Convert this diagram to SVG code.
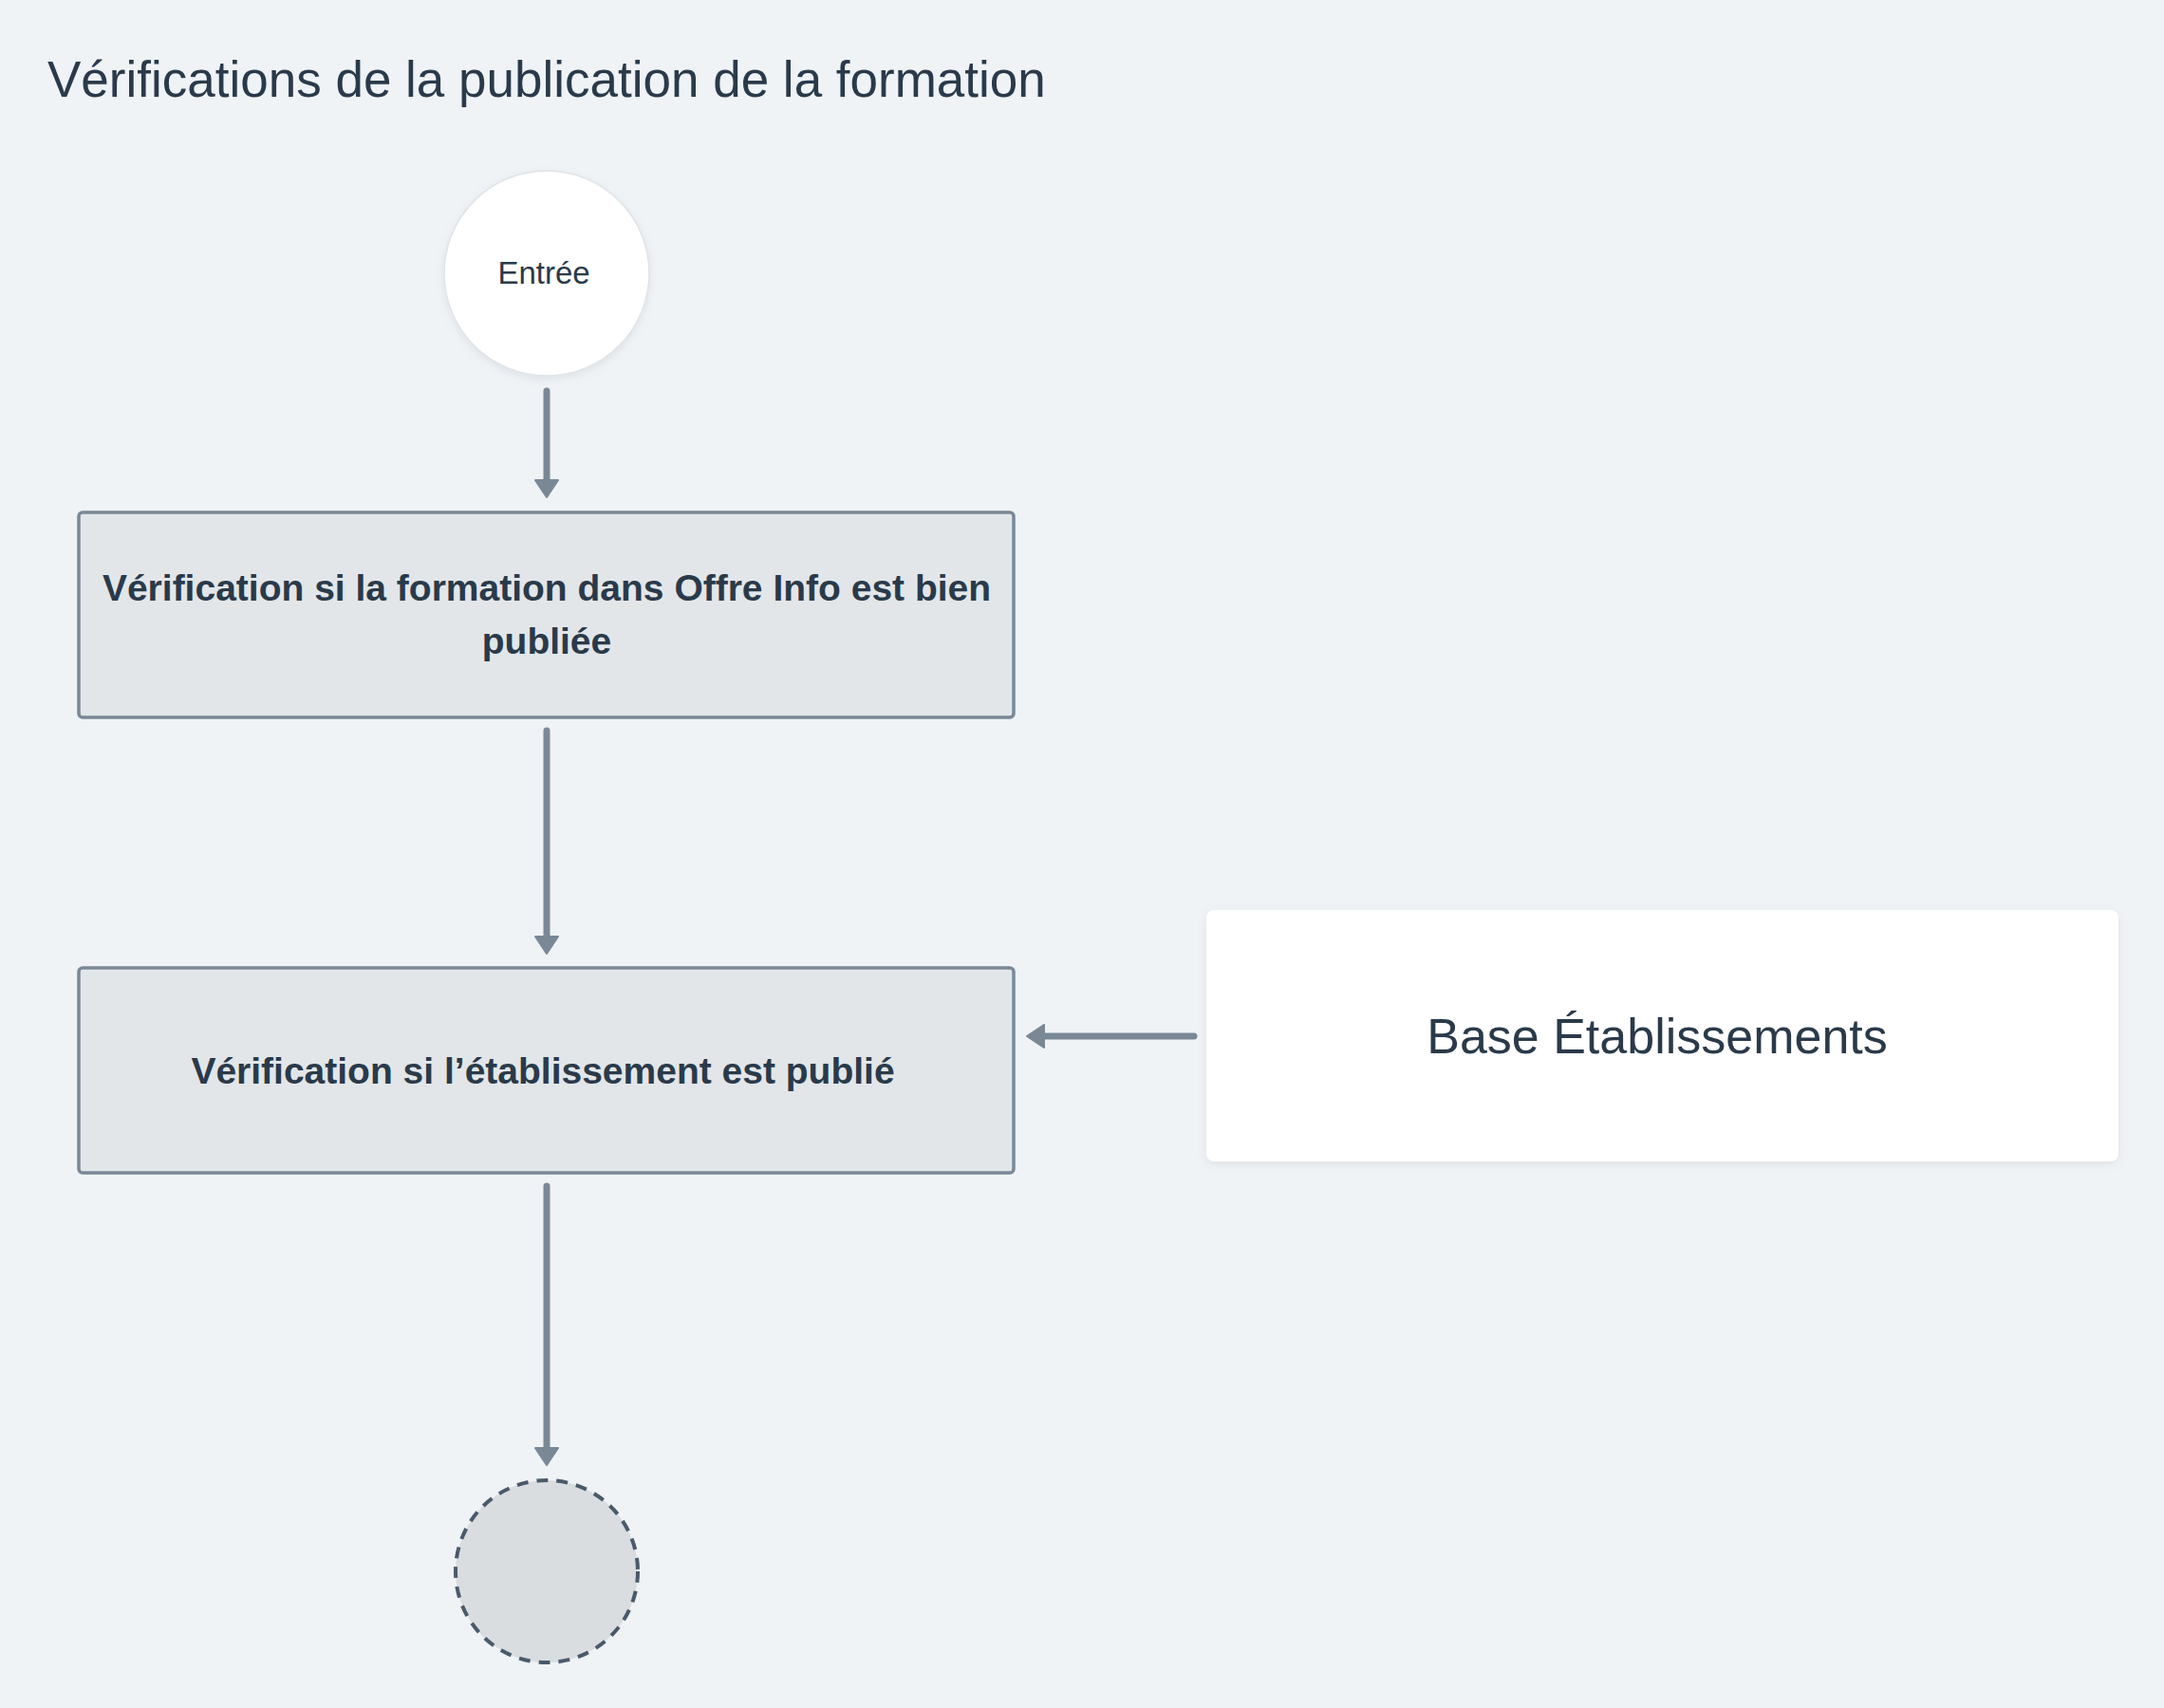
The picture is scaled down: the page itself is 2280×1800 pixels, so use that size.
<svg xmlns="http://www.w3.org/2000/svg" width="2280" height="1800" viewBox="0 0 2280 1800">
<style>
.bg{fill:#eff3f6}
.title{font-family:"Liberation Sans",Arial,sans-serif;font-size:53px;fill:#2a3a4a}
.lbl{font-family:"Liberation Sans",Arial,sans-serif;fill:#2a3a4a;text-anchor:middle}
.bold{font-weight:bold;font-size:39px}
.proc{fill:#e2e6e9;stroke:#7a8896;stroke-width:3.5}
.conn{fill:none;stroke:#7a8896;stroke-width:7;stroke-linecap:round}
</style>
<defs>
<marker id="arr" markerUnits="userSpaceOnUse" viewBox="0 0 20 26" markerWidth="20" markerHeight="26" refX="12" refY="13" orient="auto">
<path d="M1,1 L19,13 L1,25 z" fill="#7a8896" stroke="#7a8896" stroke-width="2" stroke-linejoin="round"/>
</marker>
<filter id="sh" x="-10%" y="-10%" width="120%" height="130%">
<feDropShadow dx="0" dy="3" stdDeviation="4" flood-color="#8a98a6" flood-opacity="0.18"/>
</filter>
</defs>
<rect class="bg" x="0" y="0" width="2280" height="1800"/>
<text class="title" x="50" y="102">Vérifications de la publication de la formation</text>
<g id="connectors">
<path class="conn" d="M576,412 L576,517" marker-end="url(#arr)"/>
<path class="conn" d="M576,770 L576,998" marker-end="url(#arr)"/>
<path class="conn" d="M576,1250 L576,1537" marker-end="url(#arr)"/>
<path class="conn" d="M1258,1092 L1089,1092" marker-end="url(#arr)"/>
</g>
<g id="entree">
<circle cx="576" cy="288" r="108" fill="#ffffff" stroke="#dfe4e8" stroke-width="1.5" filter="url(#sh)"/>
<text class="lbl" x="573" y="299" font-size="33">Entrée</text>
</g>
<g id="verif-formation">
<rect class="proc" x="83" y="540" width="985" height="216" rx="4"/>
<text class="lbl bold" x="576" y="633">Vérification si la formation dans Offre Info est bien</text>
<text class="lbl bold" x="576" y="689">publiée</text>
</g>
<g id="verif-etablissement">
<rect class="proc" x="83" y="1020" width="985" height="216" rx="4"/>
<text class="lbl bold" x="572" y="1142">Vérification si l’établissement est publié</text>
</g>
<g id="base-etablissements">
<rect x="1271" y="959" width="961" height="265" rx="8" fill="#ffffff" filter="url(#sh)"/>
<text class="lbl" x="1746" y="1110" font-size="52">Base Établissements</text>
</g>
<g id="fin">
<circle cx="576" cy="1656" r="96" fill="#d9dde0" stroke="#4a5a6a" stroke-width="4" stroke-dasharray="12 9"/>
</g>
</svg>
